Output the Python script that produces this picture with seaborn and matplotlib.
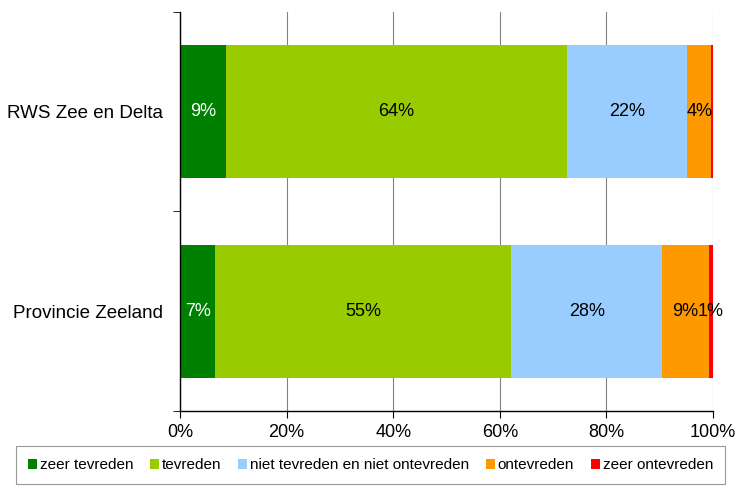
import pandas as pd
import matplotlib.pyplot as plt
import seaborn as sns
from matplotlib.patches import Patch

# Data (percent)
groups = ['RWS Zee en Delta', 'Provincie Zeeland']
levels = ['zeer tevreden', 'tevreden', 'niet tevreden en niet ontevreden', 'ontevreden', 'zeer ontevreden']
zeer_tevreden = [8.7, 6.6]
tevreden = [63.9, 55.5]
neutraal = [22.6, 28.4]
ontevreden = [4.5, 8.7]
zeer_ontevreden = [0.3, 0.9]
labels_rws = ['9%', '64%', '22%', '4%', '']
labels_prov = ['7%', '55%', '28%', '9%', '1%']

colors = ['#008000', '#99cc00', '#99ccff', '#ff9900', '#ff0000']
text_colors = ['white', 'black', 'black', 'black', 'black']

df = pd.DataFrame({'groep': groups,
                   levels[0]: zeer_tevreden,
                   levels[1]: tevreden,
                   levels[2]: neutraal,
                   levels[3]: ontevreden,
                   levels[4]: zeer_ontevreden})
cum = df[levels].cumsum(axis=1)
cum['groep'] = df['groep']

sns.set_style('white')
plt.rcParams['font.family'] = ['Liberation Sans', 'DejaVu Sans']
plt.rcParams['text.color'] = 'black'
plt.rcParams['xtick.color'] = 'black'
plt.rcParams['ytick.color'] = 'black'
plt.rcParams['xtick.labelcolor'] = 'black'
plt.rcParams['ytick.labelcolor'] = 'black'

fig, ax = plt.subplots(figsize=(7.38, 4.94), dpi=100)
fig.subplots_adjust(left=0.244, right=0.966, top=0.976, bottom=0.168)

# Stacked bars: draw cumulative totals from the largest down
for lev, col in reversed(list(zip(levels, colors))):
    sns.barplot(data=cum, x=lev, y='groep', order=groups, color=col,
                width=0.667, orient='h', ax=ax, saturation=1, linewidth=0)

# Segment labels
all_labels = [labels_rws, labels_prov]
for i, g in enumerate(groups):
    left = 0
    for j, lev in enumerate(levels):
        v = df.loc[i, lev]
        if all_labels[i][j]:
            ax.text(left + v / 2, i, all_labels[i][j], ha='center', va='center',
                    fontsize=13, color=text_colors[j])
        left += v

ax.set_xlim(0, 100)
ax.set_ylim(1.5, -0.5)
ax.set_xticks([0, 20, 40, 60, 80, 100])
ax.set_xticklabels(['0%', '20%', '40%', '60%', '80%', '100%'], fontsize=13)
ax.xaxis.grid(True, color='#808080', linewidth=0.8)
ax.set_axisbelow(True)
ax.set_xlabel('')
ax.set_ylabel('')
ax.tick_params(axis='y', which='major', length=0, labelsize=13.5, pad=12.5)
ax.set_yticks([-0.5, 0.5, 1.5], minor=True)
ax.tick_params(axis='y', which='minor', length=5, color='black', left=True)
ax.tick_params(axis='x', length=5, color='black', direction='out', bottom=True, pad=4)
for s in ['top', 'right']:
    ax.spines[s].set_visible(False)
for s in ['left', 'bottom']:
    ax.spines[s].set_color('black')
    ax.spines[s].set_linewidth(1)

handles = [Patch(facecolor=c, edgecolor='none', label=l) for c, l in zip(colors, levels)]
leg = fig.legend(handles=handles, loc='lower left', ncol=5, fontsize=11,
                 bbox_to_anchor=(8 / 738, 2 / 494, 725 / 738, 43 / 494), mode='expand',
                 frameon=True, fancybox=False, edgecolor='#808080',
                 handlelength=0.6, handleheight=0.6, handletextpad=0.2,
                 columnspacing=0.6, borderpad=0.8)
leg.get_frame().set_linewidth(0.8)

plt.savefig('out.png', dpi=100)
